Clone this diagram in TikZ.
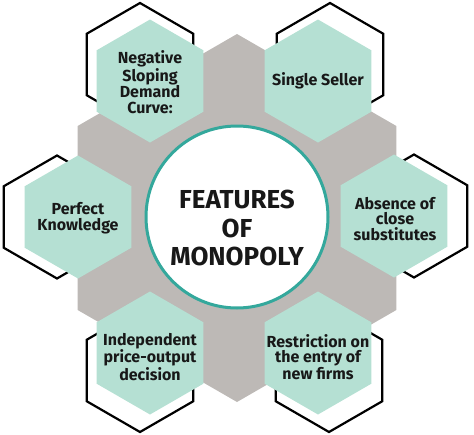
\documentclass[tikz,border=0pt]{standalone}
\usepackage{fontspec}
\setmainfont{Fira Sans}
\definecolor{mint}{RGB}{181,224,211}
\definecolor{stone}{RGB}{189,185,182}
\definecolor{rim}{RGB}{52,168,156}
\definecolor{ink}{RGB}{24,24,24}

\begin{document}
\begin{tikzpicture}[x=1pt,y=-1pt,
    feat/.style={align=center,text=ink,font=\fontsize{16}{15.5}\selectfont\bfseries},
    title/.style={align=center,text=ink,font=\fontsize{26}{28.5}\selectfont\bfseries},
    rimline/.style={line width=2.2pt,line join=miter,draw=black}]
\useasboundingbox (0,0) rectangle (474,434);
% grey hexagon behind everything
\fill[stone] (237,218) +(90:184) -- +(30:184) -- +(-30:184) -- +(-90:184)
    -- +(-150:184) -- +(150:184) -- cycle;
% black offset outlines
\foreach \x/\y in {140/64.5,330/64.5,57/217,414/216,140/370.5,329/370.5}
    \draw[rimline] (\x,\y) +(90:61.5) -- +(30:61.5) -- +(-30:61.5) -- +(-90:61.5)
        -- +(-150:61.5) -- +(150:61.5) -- cycle;
% mint hexagons
\foreach \x/\y in {150/81,318/81,78/217,394/216,150/353,318/353}
    \fill[mint] (\x,\y) +(90:61.5) -- +(30:61.5) -- +(-30:61.5) -- +(-90:61.5)
        -- +(-150:61.5) -- +(150:61.5) -- cycle;
% centre disc
\draw[rim,line width=3pt,fill=white] (237,217) circle (91pt);
\node[title] (ttl) at (237,228) {FEATURES\\OF\\MONOPOLY};
% labels
\node[feat] (neg) at (150,82) {Negative\\Sloping\\Demand\\Curve:};
\node[feat] (sgl) at (318,81) {Single Seller};
\node[feat] (prf) at (78,218) {Perfect\\Knowledge};
\node[feat] (abs) at (395,219) {Absence of\\close\\substitutes};
\node[feat] (ind) at (150,357) {Independent\\price-output\\decision};
\node[feat] (res) at (318,357) {Restriction on\\the entry of\\new firms};
\end{tikzpicture}
\end{document}
